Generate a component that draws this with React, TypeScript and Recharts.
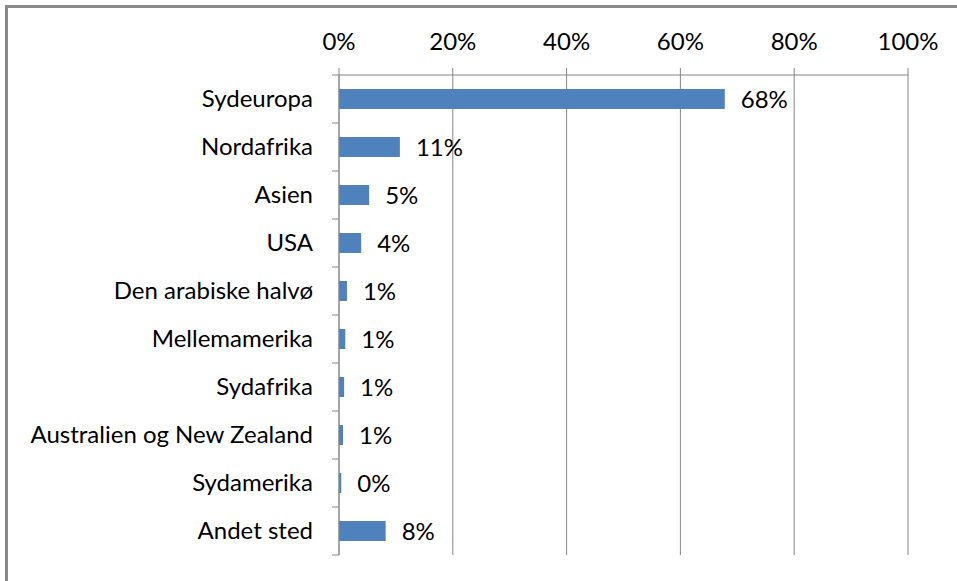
import { BarChart, Bar, XAxis, YAxis, CartesianGrid, LabelList } from "recharts";

const regions = [
  "Sydeuropa",
  "Nordafrika",
  "Asien",
  "USA",
  "Den arabiske halvø",
  "Mellemamerika",
  "Sydafrika",
  "Australien og New Zealand",
  "Sydamerika",
  "Andet sted",
];
const shares = [67.8, 10.7, 5.3, 3.9, 1.4, 1.1, 0.9, 0.7, 0.4, 8.2];
const pctTicks = [0, 20, 40, 60, 80, 100];

const data = regions.map((name, i) => ({ name, value: shares[i] }));

const FONT = "Lato, 'Noto Sans', sans-serif";
const FS = 24;
const GRID = "#868686";

const RegionTick = (props: any) => {
  const { x, y, payload } = props;
  const half = payload && payload.offset ? payload.offset : 24;
  const isLast = payload && payload.index === regions.length - 1;
  return (
    <g>
      <line x1={x + 19} x2={x + 26} y1={y - half} y2={y - half} stroke={GRID} />
      {isLast && <line x1={x + 19} x2={x + 26} y1={y + half} y2={y + half} stroke={GRID} />}
      <text x={x} y={y} dy={8} textAnchor="end" fontSize={FS} fontFamily={FONT} fill="#000">
        {payload.value}
      </text>
    </g>
  );
};

export default function App() {
  return (
    <div style={{ position: "absolute", left: 0, top: 0, width: 957, height: 581, background: "#fff" }}>
      <div
        style={{
          position: "absolute",
          left: 5,
          top: 5,
          width: 960,
          height: 590,
          borderLeft: "3px solid #8a8a8a",
          borderTop: "3px solid #8a8a8a",
        }}
      />
      <BarChart
        width={957}
        height={581}
        data={data}
        layout="vertical"
        margin={{ top: 45, right: 49, bottom: 26, left: 0 }}
        style={{ position: "absolute", left: 0, top: 0 }}
      >
        <CartesianGrid horizontal={false} stroke={GRID} />
        <XAxis
          type="number"
          orientation="top"
          height={30}
          domain={[0, 100]}
          ticks={pctTicks}
          tickFormatter={(v: number) => `${v}%`}
          axisLine={{ stroke: GRID }}
          tickLine={{ stroke: GRID }}
          tickSize={7}
          tickMargin={18}
          tick={{ fontSize: FS, fontFamily: FONT, fill: "#000" }}
          interval={0}
        />
        <YAxis
          type="category"
          dataKey="name"
          width={339}
          axisLine={{ stroke: GRID }}
          tickLine={false}
          tickSize={0}
          tickMargin={26}
          tick={<RegionTick />}
          interval={0}
        />
        <Bar dataKey="value" fill="#4F81BD" barSize={20} isAnimationActive={false}>
          <LabelList
            dataKey="value"
            position="right"
            offset={16}
            formatter={(v: any) => `${Math.round(Number(v))}%`}
            style={{ fontSize: FS, fontFamily: FONT, fill: "#000" }}
          />
        </Bar>
      </BarChart>
    </div>
  );
}
